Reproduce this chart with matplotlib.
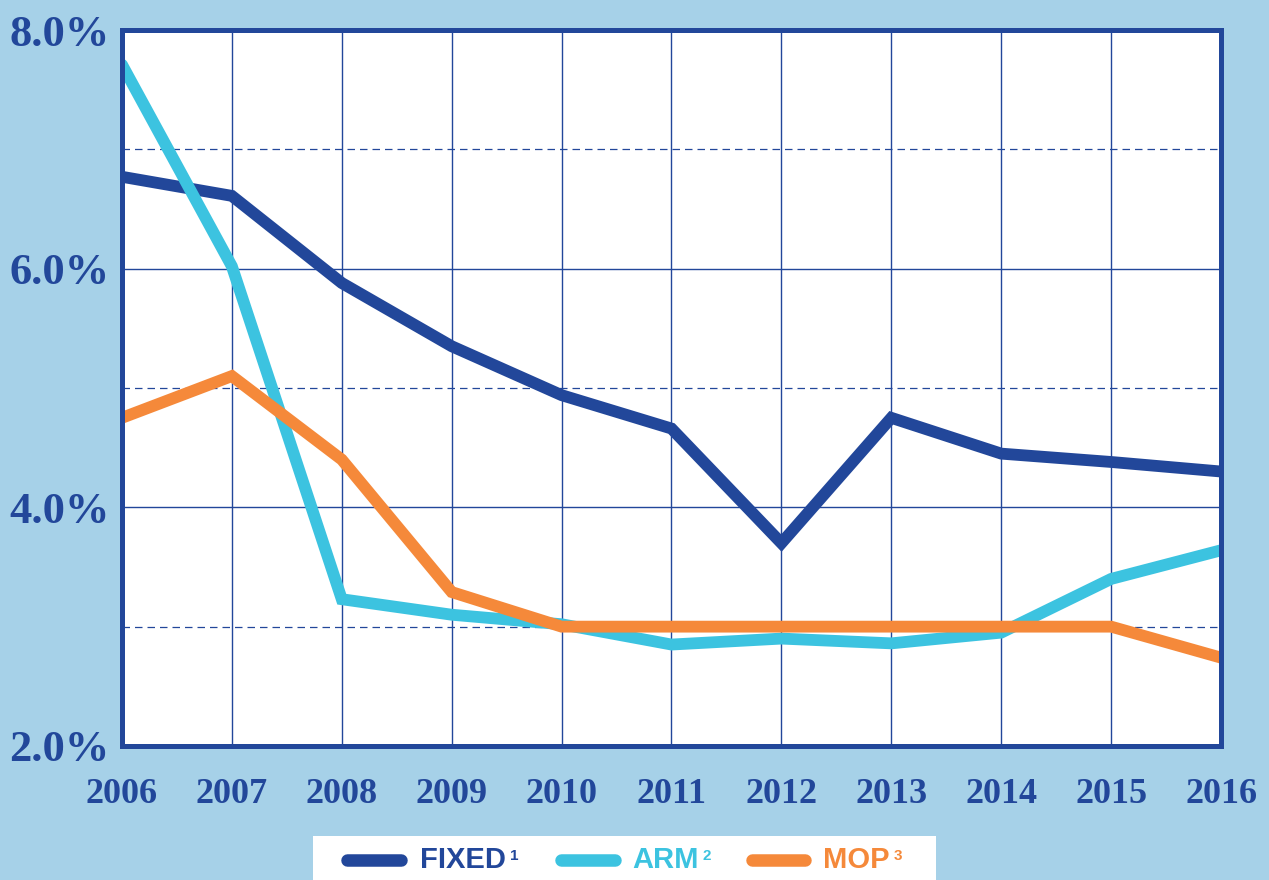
import matplotlib
matplotlib.use("Agg")
import matplotlib.pyplot as plt
from matplotlib.lines import Line2D
from matplotlib.patches import Rectangle

years = [2006, 2007, 2008, 2009, 2010, 2011, 2012, 2013, 2014, 2015, 2016]
fixed = [6.77, 6.61, 5.88, 5.35, 4.94, 4.66, 3.70, 4.75, 4.45, 4.38, 4.30]
arm = [7.71, 6.02, 3.23, 3.10, 3.02, 2.85, 2.90, 2.86, 2.95, 3.40, 3.64]
mop = [4.75, 5.10, 4.40, 3.29, 3.00, 3.00, 3.00, 3.00, 3.00, 3.00, 2.74]
y_ticks = [2, 4, 6, 8]
y_dashed = [3, 5, 7]

navy = "#22479a"
cyan = "#3cc3e0"
orange = "#f5893a"
bg = "#a6d1e8"

fig = plt.figure(figsize=(12.69, 8.8), dpi=100, facecolor=bg)
ax = fig.add_axes([0.0961, 0.1523, 0.8661, 0.8136])
ax.set_facecolor("white")

ax.set_xlim(2006, 2016)
ax.set_ylim(2, 8)

# grid
for x in years:
    ax.axvline(x, color=navy, lw=1.0, zorder=1)
for y in y_ticks:
    ax.axhline(y, color=navy, lw=1.0, zorder=1)
for y in y_dashed:
    ax.axhline(y, color=navy, lw=0.9, ls=(0, (6, 4)), zorder=1)

for vals, col in [(fixed, navy), (arm, cyan), (mop, orange)]:
    ax.plot(years, vals, color=col, lw=8.5, solid_capstyle="round",
            solid_joinstyle="miter", zorder=3)

for s in ax.spines.values():
    s.set_color(navy)
    s.set_linewidth(3.6)
    s.set_zorder(5)

serif = ["Liberation Serif", "DejaVu Serif"]
ax.set_yticks(y_ticks)
ax.set_yticklabels([f"{v:.1f}%" for v in y_ticks], fontsize=32, fontweight="bold",
                   color=navy, family=serif)
ax.set_xticks(years)
ax.set_xticklabels([str(y) for y in years], fontsize=26, fontweight="bold",
                   color=navy, family=serif)
ax.tick_params(axis="y", length=0, pad=9)
ax.tick_params(axis="x", length=0, pad=23)

# legend box
W, H = 1269, 880
fig.add_artist(Rectangle((313 / W, 0), (936 - 313) / W, (880 - 836) / H,
                         transform=fig.transFigure, facecolor="white",
                         edgecolor="none", zorder=0))
sans = ["Liberation Sans", "DejaVu Sans"]
entries = [("FIXED", "1", navy, 347, 401, 420),
           ("ARM", "2", cyan, 561, 615, 632),
           ("MOP", "3", orange, 752, 805, 823)]
ly = 1 - 860 / H
for name, sup, col, x0, x1, tx in entries:
    fig.add_artist(Line2D([x0 / W, x1 / W], [ly, ly], transform=fig.transFigure,
                          color=col, lw=9, solid_capstyle="round"))
    t = fig.text(tx / W, ly, name, color=col, fontsize=21, fontweight="bold",
                 family=sans, va="center", ha="left")
    fig.add_artist(plt.Annotation(sup, xy=(1, 0.9), xycoords=t,
                                  xytext=(3, 0), textcoords="offset points",
                                  color=col, fontsize=11, fontweight="bold",
                                  family=sans, va="top", ha="left"))

plt.savefig("out.png", dpi=100, facecolor=bg)
